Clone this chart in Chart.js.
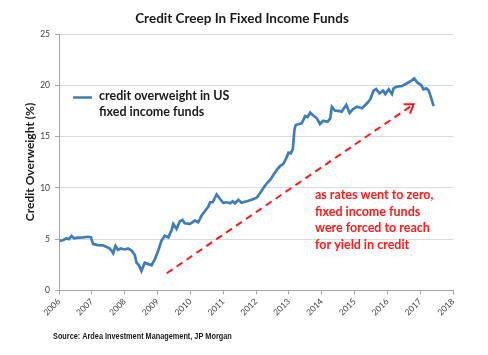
<!DOCTYPE html>
<html>
<head>
<meta charset="utf-8">
<script src="https://cdn.jsdelivr.net/npm/chart.js@4/dist/chart.umd.min.js"></script>
<style>
html,body{margin:0;padding:0;background:#fff;}
#wrap{position:relative;width:488px;height:355px;}
</style>
</head>
<body>
<div id="wrap"><canvas id="c" width="488" height="355"></canvas></div>
<script>
// ---- data ----
const years = [2006.02,2006.12,2006.23,2006.30,2006.38,2006.46,2006.58,2006.73,2006.88,2006.97,
  2007.04,2007.19,2007.34,2007.45,2007.52,2007.60,2007.65,2007.72,2007.80,2007.88,
  2008.00,2008.10,2008.21,2008.31,2008.36,2008.43,2008.51,2008.61,2008.72,2008.82,
  2008.92,2009.02,2009.12,2009.22,2009.33,2009.43,2009.48,2009.58,2009.68,2009.76,
  2009.83,2009.99,2010.14,2010.24,2010.34,2010.44,2010.55,2010.60,2010.68,2010.80,
  2010.90,2011.00,2011.11,2011.21,2011.29,2011.36,2011.46,2011.56,2011.72,2011.87,
  2012.02,2012.12,2012.22,2012.33,2012.43,2012.53,2012.63,2012.73,2012.83,2012.92,
  2012.99,2013.06,2013.12,2013.17,2013.21,2013.29,2013.39,2013.50,2013.57,2013.65,
  2013.73,2013.85,2013.95,2014.05,2014.18,2014.26,2014.31,2014.41,2014.51,2014.61,
  2014.75,2014.85,2014.95,2015.07,2015.23,2015.38,2015.48,2015.58,2015.66,2015.76,
  2015.87,2015.94,2016.04,2016.14,2016.19,2016.29,2016.45,2016.60,2016.72,2016.82,
  2016.92,2017.03,2017.10,2017.19,2017.26,2017.33,2017.41];
const overweight = [4.85,4.9,5.09,5.0,5.31,5.09,5.15,5.18,5.24,5.2,
  4.53,4.43,4.4,4.24,4.15,3.89,3.63,4.34,3.95,4.1,
  4.0,4.1,3.89,3.46,2.71,2.49,1.9,2.7,2.57,2.45,
  3.06,3.87,4.85,5.34,5.18,5.9,6.49,6.0,6.75,6.88,
  6.55,6.49,6.81,6.65,7.3,7.73,8.19,8.6,8.6,9.36,
  8.94,8.55,8.6,8.5,8.7,8.5,8.84,8.55,8.7,8.84,
  9.04,9.47,9.96,10.45,10.77,11.26,11.74,12.13,12.33,12.88,
  13.43,13.37,13.76,15.64,16.13,16.2,16.3,17.0,16.9,17.33,
  17.1,16.78,16.23,16.55,16.45,16.78,17.91,17.52,17.5,17.43,
  18.1,17.3,17.66,17.91,17.76,18.25,18.64,19.47,19.64,19.22,
  19.47,19.15,19.61,19.15,19.7,19.87,19.93,20.2,20.42,20.68,
  20.25,20.03,19.61,19.7,19.47,18.83,17.98];
const arrowYears = [2009.28, 2016.80];
const arrowValues = [1.68, 18.15];
const chartTitle = 'Credit Creep In Fixed Income Funds';
const yAxisTitle = 'Credit Overweight (%)';
const legendLines = ['credit overweight in US', 'fixed income funds'];
const noteLines = ['as rates went to zero,', 'fixed income funds', 'were forced to reach', 'for yield in credit'];
const sourceText = 'Source: Ardea Investment Management, JP Morgan';

const linePoints = years.map((x, i) => ({x, y: overweight[i]}));
const arrowPoints = arrowYears.map((x, i) => ({x, y: arrowValues[i]}));

const BLUE = '#3d7dbd';
const RED = '#ff1a1a';

const decor = {
  id: 'decor',
  afterDraw(chart) {
    const ctx = chart.ctx;
    const xs = chart.scales.x, ys = chart.scales.y;
    ctx.save();
    // title
    ctx.fillStyle = '#1a1a1a';
    ctx.font = 'bold 13.5px Lato';
    ctx.textAlign = 'center';
    ctx.textBaseline = 'middle';
    ctx.fillText(chartTitle, 242, 19);
    // y axis title
    ctx.save();
    ctx.translate(30, 162);
    ctx.rotate(-Math.PI / 2);
    ctx.font = 'bold 12px Lato';
    ctx.fillStyle = '#1a1a1a';
    ctx.fillText(yAxisTitle, 0, 0);
    ctx.restore();
    // legend
    ctx.strokeStyle = BLUE;
    ctx.lineWidth = 2.5;
    ctx.beginPath();
    ctx.moveTo(73, 97.5);
    ctx.lineTo(92, 97.5);
    ctx.stroke();
    ctx.textAlign = 'left';
    ctx.font = 'bold 12.5px Lato';
    ctx.fillStyle = '#1a1a1a';
    legendLines.forEach((t, i) => ctx.fillText(t, 99, 96 + i * 16));
    // note
    ctx.fillStyle = RED;
    ctx.font = 'bold 12.5px Lato';
    noteLines.forEach((t, i) => ctx.fillText(t, 315, 195 + i * 16.7));
    // arrowhead
    const x1 = xs.getPixelForValue(arrowYears[0]), y1 = ys.getPixelForValue(arrowValues[0]);
    const x2 = xs.getPixelForValue(arrowYears[1]), y2 = ys.getPixelForValue(arrowValues[1]);
    const ang = Math.atan2(y2 - y1, x2 - x1);
    const L = 10, spread = 0.6;
    ctx.strokeStyle = RED;
    ctx.lineWidth = 2;
    ctx.setLineDash([]);
    ctx.beginPath();
    ctx.moveTo(x2 - L * Math.cos(ang - spread), y2 - L * Math.sin(ang - spread));
    ctx.lineTo(x2, y2);
    ctx.lineTo(x2 - L * Math.cos(ang + spread), y2 - L * Math.sin(ang + spread));
    ctx.stroke();
    // source
    ctx.save();
    ctx.translate(53, 337);
    ctx.scale(0.86, 1);
    ctx.fillStyle = '#1a1a1a';
    ctx.font = 'bold 8.5px "Liberation Sans"';
    ctx.textAlign = 'left';
    ctx.fillText(sourceText, 0, 0);
    ctx.restore();
    ctx.restore();
  }
};

new Chart(document.getElementById('c'), {
  type: 'line',
  data: {
    datasets: [
      {data: linePoints, borderColor: BLUE, borderWidth: 2.7, pointRadius: 0, tension: 0, order: 1},
      {data: arrowPoints, borderColor: RED, borderWidth: 2, borderDash: [7, 5], pointRadius: 0, order: 2}
    ]
  },
  options: {
    responsive: false,
    animation: false,
    events: [],
    layout: {padding: {left: 0, top: 34, right: 35, bottom: 0}},
    plugins: {legend: {display: false}, title: {display: false}, tooltip: {enabled: false}},
    scales: {
      x: {
        type: 'linear', min: 2006, max: 2018,
        afterFit(s) { s.height = 64.5; },
        ticks: {stepSize: 1, autoSkip: false, maxRotation: 45, minRotation: 45,
          color: '#404040', font: {family: 'Lato', size: 8.5}, padding: 2,
          callback: v => String(v)},
        grid: {drawOnChartArea: false, drawTicks: true, tickLength: 4, tickColor: '#a6a6a6'},
        border: {color: '#a6a6a6', width: 1}
      },
      y: {
        min: 0, max: 25,
        afterFit(s) { s.width = 59; },
        ticks: {stepSize: 5, color: '#404040', font: {family: 'Lato', size: 8.5}, padding: 5},
        grid: {
          color: c => c.tick.value === 0 ? 'rgba(0,0,0,0)' : '#d9d9d9',
          borderDash: [3, 3], tickLength: 4, tickColor: '#a6a6a6', lineWidth: 1
        },
        border: {color: '#a6a6a6', width: 1}
      }
    }
  },
  plugins: [decor]
});
</script>
</body>
</html>
